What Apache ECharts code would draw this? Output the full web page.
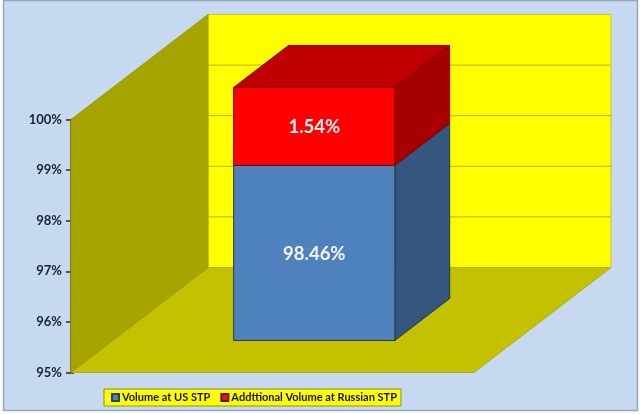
<!DOCTYPE html>
<html>
<head>
<meta charset="utf-8">
<style>html,body{margin:0;padding:0;background:#fff}#c{width:640px;height:414px}</style>
<script src="https://cdn.jsdelivr.net/npm/echarts@6/dist/echarts.min.js"></script>
</head>
<body>
<div id="c"></div>
<script>
const categories = ['Volume'];
const usVolume = [98.46];
const russianVolume = [1.54];
const seriesNames = ['Volume at US STP', 'Addttional Volume at Russian STP'];
const axisMin = 95;
const axisMax = 100;
const axisStep = 1;

const DX = 137, DY = -105;          // oblique depth vector of the 3D box
const NEAR = 0.305, FAR = 0.705;    // bar's depth span inside the box
const FONT = 'Lato, "Open Sans", sans-serif';

function walls(params, api) {
  const cs = params.coordSys;
  const l = cs.x, r = cs.x + cs.width;
  const yb = api.coord([0, axisMin])[1], yt = api.coord([0, axisMax])[1];
  const kids = [];
  const poly = (pts, fill, stroke) => ({
    type: 'polygon', shape: { points: pts },
    style: { fill: fill, stroke: stroke || fill, lineWidth: stroke ? 1 : 0 }
  });
  kids.push(poly([[l + DX, yt + DY], [r + DX, yt + DY], [r + DX, yb + DY], [l + DX, yb + DY]], '#FFFF00', '#C9C62A'));
  kids.push(poly([[l, yb], [l + DX, yb + DY], [r + DX, yb + DY], [r, yb]], '#C4C200', '#B0AE14'));
  kids.push(poly([[l, yt], [l + DX, yt + DY], [l + DX, yb + DY], [l, yb]], '#A6A400', '#A09E00'));
  for (let v = axisMin + axisStep; v < axisMax; v += axisStep) {
    const y = api.coord([0, v])[1];
    kids.push({ type: 'line', shape: { x1: l + DX, y1: y + DY, x2: r + DX, y2: y + DY },
      style: { stroke: '#B5B01E', lineWidth: 1 } });
    kids.push({ type: 'line', shape: { x1: l, y1: y, x2: l + DX, y2: y + DY },
      style: { stroke: '#A19F00', lineWidth: 1 } });
  }
  return { type: 'group', children: kids };
}

function barBox(colors, baseOf, topOf) {
  return function (params, api) {
    const i = api.value(0);
    const v = api.value(1);
    const base = baseOf(params.dataIndex);
    const top = topOf(params.dataIndex);
    const center = api.coord([i, base])[0];
    const w = api.size([1, 0])[0] * 0.4;
    const ox = DX * NEAR, oy = DY * NEAR;
    const dx = DX * (FAR - NEAR), dy = DY * (FAR - NEAR);
    const x0 = center - w / 2 + ox, x1 = center + w / 2 + ox;
    const y0 = api.coord([i, top])[1] + oy, y1 = api.coord([i, base])[1] + oy;
    const edge = colors.edge;
    const kids = [
      { type: 'polygon', shape: { points: [[x1, y0], [x1 + dx, y0 + dy], [x1 + dx, y1 + dy], [x1, y1]] },
        style: { fill: colors.side, stroke: edge, lineWidth: 1 } },
      { type: 'polygon', shape: { points: [[x0, y0], [x1, y0], [x1, y1], [x0, y1]] },
        style: { fill: colors.front, stroke: edge, lineWidth: 1 } },
      { type: 'text', x: (x0 + x1) / 2, y: (y0 + y1) / 2 + 1,
        style: { text: v.toFixed(2) + '%', fill: '#F4F6FA', font: 'bold 18.5px ' + FONT,
          align: 'center', verticalAlign: 'middle' } }
    ];
    if (colors.top) {
      kids.splice(1, 0, { type: 'polygon',
        shape: { points: [[x0, y0], [x0 + dx, y0 + dy], [x1 + dx, y0 + dy], [x1, y0]] },
        style: { fill: colors.top, stroke: edge, lineWidth: 1 } });
    }
    return { type: 'group', children: kids };
  };
}

const chart = echarts.init(document.getElementById('c'), null, { renderer: 'canvas' });
chart.setOption({
  animation: false,
  backgroundColor: '#ffffff',
  graphic: [{
    type: 'rect', z: -10, silent: true,
    shape: { x: 3.5, y: 0.5, width: 634, height: 410 },
    style: { fill: '#C6D9F0', stroke: '#98A6B8', lineWidth: 1.5 }
  }],
  grid: { left: 71, right: 166, top: 119.5, bottom: 41.5 },
  legend: {
    left: 104, top: 389,
    padding: [3, 4, 3, 7],
    icon: 'rect',
    itemWidth: 7, itemHeight: 7, itemGap: 10,
    backgroundColor: '#FFFF00', borderColor: '#8F8D20', borderWidth: 1, borderRadius: 0,
    textStyle: { fontFamily: FONT, fontWeight: 'bold', fontSize: 11, color: '#111111', padding: [0, 0, 0, -2] },
    data: seriesNames
  },
  xAxis: {
    type: 'category', data: categories,
    axisLine: { show: false }, axisTick: { show: false }, axisLabel: { show: false }, splitLine: { show: false }
  },
  yAxis: [{
    type: 'value', min: axisMin, max: axisMax, interval: axisStep,
    axisLine: { show: true, onZero: false, lineStyle: { color: '#3B3B1E', width: 1.5 } },
    axisTick: { show: true, length: 5, lineStyle: { color: '#2E2E1E', width: 1.5 } },
    axisLabel: { margin: 9, fontFamily: FONT, fontWeight: 'bold', fontSize: 13, color: '#16213A',
      formatter: v => v + '%' },
    splitLine: { show: false }
  }, {
    type: 'value', position: 'left', min: axisMin, max: axisMax, interval: axisStep,
    axisLine: { show: false },
    axisTick: { show: true, inside: true, length: 3, lineStyle: { color: '#2E2E1E', width: 1.5 } },
    minorTick: { show: true, splitNumber: 5, length: 3, lineStyle: { color: '#2E2E1E', width: 1.5 } },
    axisLabel: { show: false },
    splitLine: { show: false }
  }],
  series: [
    { type: 'custom', name: 'walls', silent: true, z: 1, clip: false, renderItem: walls,
      encode: { x: 0, y: 1 }, data: [[0, axisMax]] },
    { type: 'custom', name: seriesNames[0], z: 2, clip: false,
      itemStyle: { color: '#4F81BD', borderColor: '#2B3F55', borderWidth: 1 },
      renderItem: barBox({ front: '#4F81BD', side: '#34567F', edge: '#24384F' },
        () => axisMin, i => usVolume[i]),
      encode: { x: 0, y: 1 },
      data: usVolume.map((v, i) => [i, v]) },
    { type: 'custom', name: seriesNames[1], z: 3, clip: false,
      itemStyle: { color: '#E01A1A', borderColor: '#6E1010', borderWidth: 1 },
      renderItem: barBox({ front: '#FF0000', side: '#A80000', top: '#C00000', edge: '#7A0000' },
        i => usVolume[i], i => usVolume[i] + russianVolume[i]),
      encode: { x: 0, y: 1 },
      data: russianVolume.map((v, i) => [i, v]) }
  ]
});
</script>
</body>
</html>
